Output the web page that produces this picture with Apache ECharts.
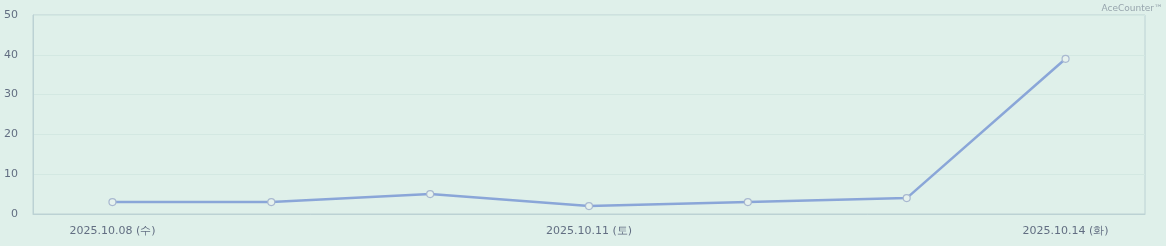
<!DOCTYPE html>
<html><head><meta charset="utf-8">
<script src="https://cdn.jsdelivr.net/npm/echarts@6/dist/echarts.min.js"></script>
<style>html,body{margin:0;padding:0;background:#dff0ea;}#c{width:1166px;height:246px;}</style>
</head><body><div id="c"></div>
<script>
const categories = ['2025.10.08 (수)','2025.10.09 (목)','2025.10.10 (금)','2025.10.11 (토)','2025.10.12 (일)','2025.10.13 (월)','2025.10.14 (화)'];
const visits = [3, 3, 5, 2, 3, 4, 39];
const yTicks = {min: 0, max: 50, interval: 10};
const chart = echarts.init(document.getElementById('c'));
chart.setOption({
  backgroundColor: '#dff0ea',
  animation: false,
  title: {text: 'AceCounter™', right: 3, top: 4, padding: 0, textStyle: {fontSize: 9, color: '#97a5ad', fontWeight: 'normal', fontFamily: 'DejaVu Sans'}},
  grid: {left: 33, right: 21, top: 15, bottom: 32, show: true, borderColor: '#bcd2d4', borderWidth: 1},
  xAxis: {type: 'category', data: categories, boundaryGap: true,
    axisLine: {show: true, lineStyle: {color: '#bcd2d4'}}, axisTick: {show: false},
    axisLabel: {interval: 2, color: '#626e82', fontSize: 11, fontFamily: 'DejaVu Sans', margin: 12}},
  yAxis: {type: 'value', min: yTicks.min, max: yTicks.max, interval: yTicks.interval,
    axisLine: {show: true, lineStyle: {color: '#bcd2d4'}}, axisTick: {show: false},
    splitLine: {lineStyle: {color: '#d3e8e2'}},
    axisLabel: {color: '#626e82', fontSize: 11, fontFamily: 'DejaVu Sans', margin: 15}},
  series: [{type: 'line', data: visits, symbol: 'circle', symbolSize: 7,
    lineStyle: {color: '#8aa6d8', width: 2.5},
    itemStyle: {color: '#e6f2ee', borderColor: '#a8b8d0', borderWidth: 1.2}}]
});
</script></body></html>
